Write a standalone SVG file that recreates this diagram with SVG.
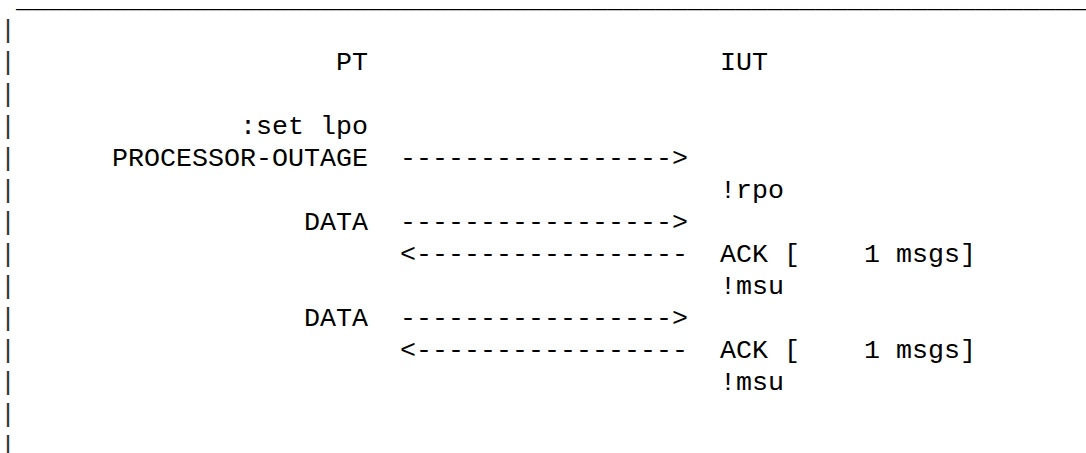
<svg xmlns="http://www.w3.org/2000/svg" width="1086" height="453" viewBox="0 0 1086 453">
<style>
  text { font-family: "Courier New", "Nimbus Mono PS", "Nimbus Mono L", "FreeMono", "Liberation Mono", monospace; font-size: 26.667px; fill: #000; white-space: pre; }
  .bar { fill: #333; }
</style>
<rect x="0" y="0" width="1086" height="453" fill="#fff"/>
<g id="frame">
  <text x="16" y="6.5">___________________________________________________________________</text>
  <text class="bar" x="0" y="38">|</text>
  <text class="bar" x="0" y="70">|</text>
  <text class="bar" x="0" y="102">|</text>
  <text class="bar" x="0" y="134">|</text>
  <text class="bar" x="0" y="166">|</text>
  <text class="bar" x="0" y="198">|</text>
  <text class="bar" x="0" y="230">|</text>
  <text class="bar" x="0" y="262">|</text>
  <text class="bar" x="0" y="294">|</text>
  <text class="bar" x="0" y="326">|</text>
  <text class="bar" x="0" y="358">|</text>
  <text class="bar" x="0" y="390">|</text>
  <text class="bar" x="0" y="422">|</text>
  <text class="bar" x="0" y="454">|</text>
</g>
<g id="node-PT">
  <text x="336" y="70">PT</text>
</g>
<g id="node-IUT">
  <text x="720" y="70">IUT</text>
</g>
<g id="connectors">
  <text x="240" y="134">:set lpo</text>
  <text x="112" y="166">PROCESSOR-OUTAGE</text>
  <text x="400" y="166">-----------------&gt;</text>
  <text x="720" y="198">!rpo</text>
  <text x="304" y="230">DATA</text>
  <text x="400" y="230">-----------------&gt;</text>
  <text x="400" y="262">&lt;-----------------</text>
  <text x="720" y="262">ACK [    1 msgs]</text>
  <text x="720" y="294">!msu</text>
  <text x="304" y="326">DATA</text>
  <text x="400" y="326">-----------------&gt;</text>
  <text x="400" y="358">&lt;-----------------</text>
  <text x="720" y="358">ACK [    1 msgs]</text>
  <text x="720" y="390">!msu</text>
</g>
</svg>
